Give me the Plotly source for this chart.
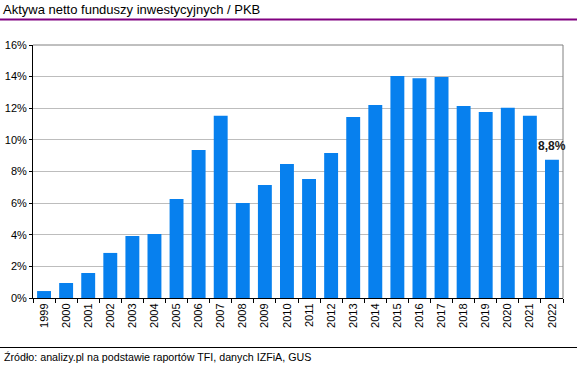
import plotly.graph_objects as go

years = list(range(1999, 2023))
year_labels = [str(y) for y in years]
values = [0.44, 0.95, 1.58, 2.85, 3.92, 4.05, 6.26, 9.36, 11.52, 6.01, 7.15, 8.47,
          7.53, 9.17, 11.44, 12.2, 14.04, 13.9, 13.98, 12.15, 11.77, 12.03, 11.52, 8.75]
y_ticks = [0, 2, 4, 6, 8, 10, 12, 14, 16]
y_ticklabels = [f"{v}%" for v in y_ticks]
title_text = "Aktywa netto funduszy inwestycyjnych / PKB"
source_text = "Źródło: analizy.pl na podstawie raportów TFI, danych IZFiA, GUS"
last_label = "8,8%"

W, H = 577, 367
L, R, T, B = 33, 563, 45, 298
pw, ph = R - L, B - T

def px(x):
    return (x - L) / pw

def py(y):
    return (B - y) / ph

font = "Liberation Sans, Arial, sans-serif"

fig = go.Figure()
fig.add_trace(go.Bar(x=years, y=values, width=0.63,
                     marker=dict(color="#0780ee", line=dict(width=0)),
                     hoverinfo="x+y"))

fig.update_layout(
    width=W, height=H,
    margin=dict(l=L, r=W - R, t=T, b=H - B, autoexpand=False),
    paper_bgcolor="white", plot_bgcolor="white",
    showlegend=False,
    font=dict(family=font, size=11, color="#000000"),
    xaxis=dict(
        type="linear", range=[years[0] - 0.5, years[-1] + 0.5],
        tickvals=years, ticktext=year_labels, tickangle=-90,
        showgrid=False, zeroline=False, automargin=False,
        showline=True, linecolor="#000000", linewidth=1,
        ticks="", ticklen=0,
        minor=dict(tick0=years[0] - 0.5, dtick=1, ticks="outside", ticklen=4,
                   tickcolor="#000000", showgrid=False),
        tickfont=dict(family=font, size=11, color="#000000"),
        fixedrange=True,
    ),
    yaxis=dict(
        range=[0, 16], tickvals=y_ticks, ticktext=y_ticklabels,
        showgrid=True, gridcolor="#bdbdbd", gridwidth=1,
        showline=True, linecolor="#000000", linewidth=1,
        ticks="outside", ticklen=3, tickcolor="#000000",
        tickfont=dict(family=font, size=11, color="#000000"),
        zeroline=False, fixedrange=True, automargin=False,
    ),
)

shapes = [
    dict(type="line", xref="paper", yref="paper", x0=0, x1=1, y0=1, y1=1,
         line=dict(color="#808080", width=1)),
    dict(type="line", xref="paper", yref="paper", x0=1, x1=1, y0=0, y1=1,
         line=dict(color="#808080", width=1)),
    dict(type="line", xref="paper", yref="paper", x0=px(0), x1=px(577), y0=py(19.5), y1=py(19.5),
         line=dict(color="#800080", width=2)),
    dict(type="line", xref="paper", yref="paper", x0=px(0), x1=px(577), y0=py(347.5), y1=py(347.5),
         line=dict(color="#000000", width=1)),
]
fig.update_layout(shapes=shapes)

annotations = [
    dict(text=title_text, xref="paper", yref="paper", x=px(1), y=py(10), xanchor="left", yanchor="middle",
         showarrow=False, font=dict(family=font, size=13, color="#000000")),
    dict(text=source_text, xref="paper", yref="paper", x=px(2), y=py(357), xanchor="left", yanchor="middle",
         showarrow=False, font=dict(family=font, size=10.7, color="#000000")),
    dict(text=f"<b>{last_label}</b>", x=years[-1], y=values[-1], xref="x", yref="y",
         xanchor="center", yanchor="bottom", yshift=5, showarrow=False,
         font=dict(family=font, size=12, color="#1a1a1a")),
]
fig.update_layout(annotations=annotations)

fig.write_html("out.html", config={"displayModeBar": False},
               post_script="document.body.style.margin='0';document.body.style.padding='0';"
                           "document.body.style.overflow='hidden';")
